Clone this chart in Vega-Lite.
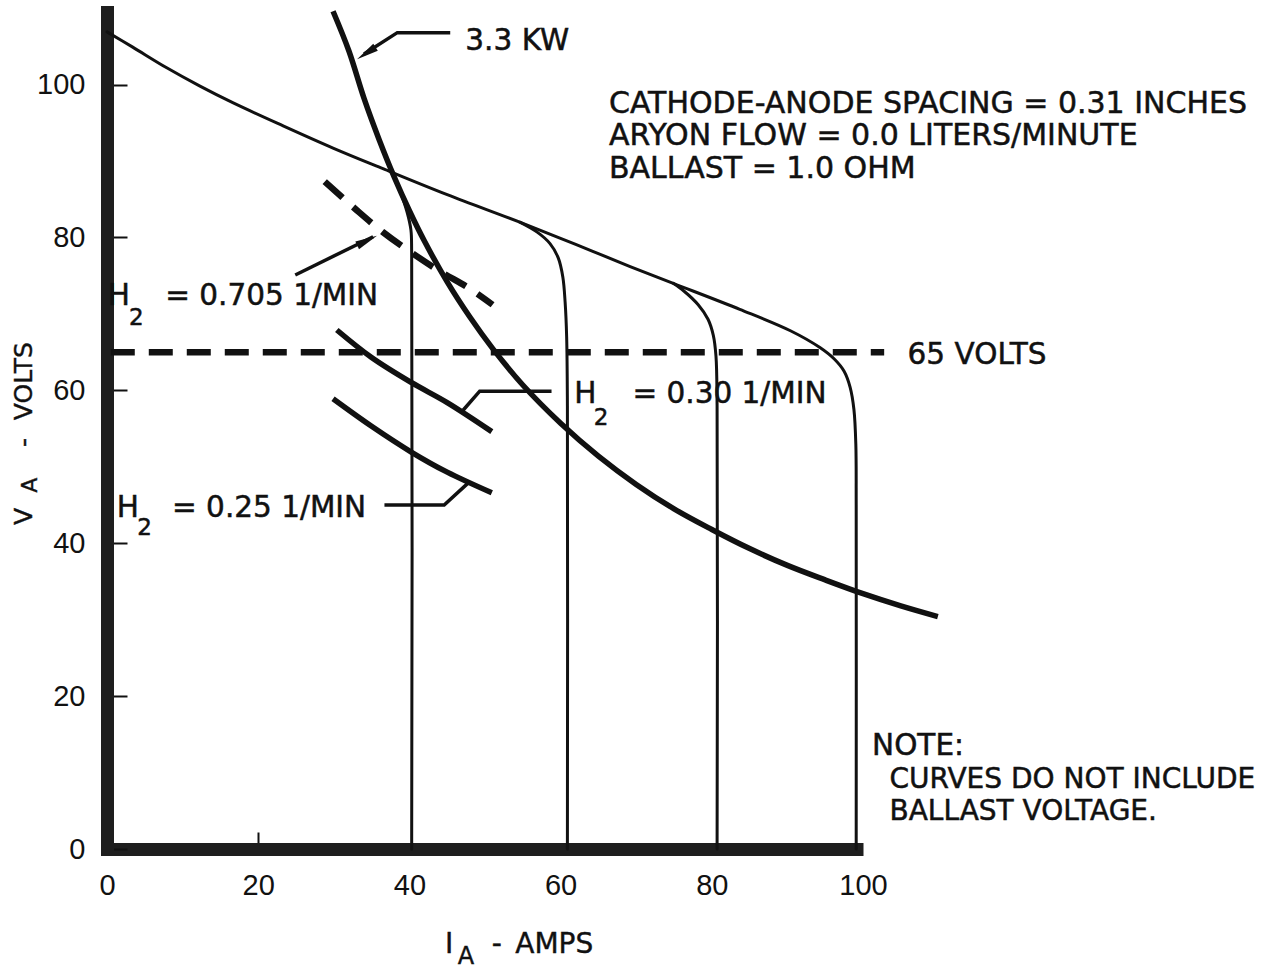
{
  "$schema": "https://vega.github.io/schema/vega-lite/v6.json",
  "width": 756,
  "height": 837,
  "autosize": {"type": "none"},
  "padding": {"left": 107, "top": 12, "right": 424, "bottom": 123},
  "background": "white",
  "config": {"view": {"stroke": null}, "font": "DejaVu Sans"},
  "datasets": {
    "curves": [
      {"s": "env", "i": 0, "amps": 0, "volts": 106.9},
      {"s": "env", "i": 1, "amps": 3.4, "volts": 104.9},
      {"s": "env", "i": 2, "amps": 7.9, "volts": 102.2},
      {"s": "env", "i": 3, "amps": 12.3, "volts": 99.8},
      {"s": "env", "i": 4, "amps": 16.7, "volts": 97.6},
      {"s": "env", "i": 5, "amps": 23.3, "volts": 94.6},
      {"s": "env", "i": 6, "amps": 29.9, "volts": 91.7},
      {"s": "env", "i": 7, "amps": 36.5, "volts": 89.0},
      {"s": "env", "i": 8, "amps": 45, "volts": 85.6},
      {"s": "env", "i": 9, "amps": 54.6, "volts": 82.0},
      {"s": "env", "i": 10, "amps": 62, "volts": 79.1},
      {"s": "env", "i": 11, "amps": 69.2, "volts": 76.2},
      {"s": "env", "i": 12, "amps": 74.9, "volts": 74.0},
      {"s": "env", "i": 13, "amps": 83.7, "volts": 70.6},
      {"s": "env", "i": 14, "amps": 90.4, "volts": 67.8},
      {"s": "env", "i": 15, "amps": 94.3, "volts": 65.6},
      {"s": "env", "i": 16, "amps": 96.2, "volts": 64.1},
      {"s": "env", "i": 17, "amps": 97.5, "volts": 62.5},
      {"s": "env", "i": 18, "amps": 98.3, "volts": 60.4},
      {"s": "env", "i": 19, "amps": 98.8, "volts": 57.5},
      {"s": "env", "i": 20, "amps": 99.05, "volts": 53},
      {"s": "env", "i": 21, "amps": 99.1, "volts": 45},
      {"s": "env", "i": 22, "amps": 99.1, "volts": 0},
      {"s": "a80", "i": 0, "amps": 74.9, "volts": 74.0},
      {"s": "a80", "i": 1, "amps": 76.3, "volts": 73.0},
      {"s": "a80", "i": 2, "amps": 78.2, "volts": 71.2},
      {"s": "a80", "i": 3, "amps": 79.5, "volts": 69.3},
      {"s": "a80", "i": 4, "amps": 80.2, "volts": 67.2},
      {"s": "a80", "i": 5, "amps": 80.55, "volts": 64.5},
      {"s": "a80", "i": 6, "amps": 80.7, "volts": 58},
      {"s": "a80", "i": 7, "amps": 80.7, "volts": 0},
      {"s": "a60", "i": 0, "amps": 54.6, "volts": 82.0},
      {"s": "a60", "i": 1, "amps": 56.9, "volts": 80.7},
      {"s": "a60", "i": 2, "amps": 58.6, "volts": 79.2},
      {"s": "a60", "i": 3, "amps": 59.7, "volts": 77.3},
      {"s": "a60", "i": 4, "amps": 60.3, "volts": 74.8},
      {"s": "a60", "i": 5, "amps": 60.6, "volts": 71.5},
      {"s": "a60", "i": 6, "amps": 60.8, "volts": 67},
      {"s": "a60", "i": 7, "amps": 60.9, "volts": 58},
      {"s": "a60", "i": 8, "amps": 60.9, "volts": 0},
      {"s": "a40", "i": 0, "amps": 37.8, "volts": 88.4},
      {"s": "a40", "i": 1, "amps": 38.8, "volts": 86.0},
      {"s": "a40", "i": 2, "amps": 39.7, "volts": 83.3},
      {"s": "a40", "i": 3, "amps": 40.2, "volts": 81.0},
      {"s": "a40", "i": 4, "amps": 40.3, "volts": 78},
      {"s": "a40", "i": 5, "amps": 40.3, "volts": 0},
      {"s": "kw33", "i": 0, "amps": 29.9, "volts": 109.6},
      {"s": "kw33", "i": 1, "amps": 32, "volts": 104.4},
      {"s": "kw33", "i": 2, "amps": 34, "volts": 98.2},
      {"s": "kw33", "i": 3, "amps": 36, "volts": 92.8},
      {"s": "kw33", "i": 4, "amps": 38, "volts": 87.9},
      {"s": "kw33", "i": 5, "amps": 40, "volts": 83.5},
      {"s": "kw33", "i": 6, "amps": 42, "volts": 79.5},
      {"s": "kw33", "i": 7, "amps": 45, "volts": 74.2},
      {"s": "kw33", "i": 8, "amps": 48, "volts": 69.6},
      {"s": "kw33", "i": 9, "amps": 51, "volts": 65.5},
      {"s": "kw33", "i": 10, "amps": 55, "volts": 60.7},
      {"s": "kw33", "i": 11, "amps": 60, "volts": 55.7},
      {"s": "kw33", "i": 12, "amps": 65, "volts": 51.4},
      {"s": "kw33", "i": 13, "amps": 70, "volts": 47.7},
      {"s": "kw33", "i": 14, "amps": 75, "volts": 44.5},
      {"s": "kw33", "i": 15, "amps": 80, "volts": 41.8},
      {"s": "kw33", "i": 16, "amps": 85, "volts": 39.3},
      {"s": "kw33", "i": 17, "amps": 90, "volts": 37.1},
      {"s": "kw33", "i": 18, "amps": 95, "volts": 35.2},
      {"s": "kw33", "i": 19, "amps": 100, "volts": 33.4},
      {"s": "kw33", "i": 20, "amps": 105, "volts": 31.8},
      {"s": "kw33", "i": 21, "amps": 109.9, "volts": 30.4},
      {"s": "h030", "i": 0, "amps": 30.4, "volts": 67.9},
      {"s": "h030", "i": 1, "amps": 35, "volts": 64.3},
      {"s": "h030", "i": 2, "amps": 40.3, "volts": 61.0},
      {"s": "h030", "i": 3, "amps": 45, "volts": 58.4},
      {"s": "h030", "i": 4, "amps": 50.9, "volts": 54.6},
      {"s": "h025", "i": 0, "amps": 29.9, "volts": 58.9},
      {"s": "h025", "i": 1, "amps": 35, "volts": 55.3},
      {"s": "h025", "i": 2, "amps": 40.3, "volts": 51.9},
      {"s": "h025", "i": 3, "amps": 45, "volts": 49.3},
      {"s": "h025", "i": 4, "amps": 50.9, "volts": 46.6},
      {"s": "ld030", "i": 0, "amps": 47.1, "volts": 57.4},
      {"s": "ld030", "i": 1, "amps": 49.3, "volts": 59.9},
      {"s": "ld030", "i": 2, "amps": 58.8, "volts": 59.9},
      {"s": "ld025", "i": 0, "amps": 36.7, "volts": 45.0},
      {"s": "ld025", "i": 1, "amps": 44.6, "volts": 45.0},
      {"s": "ld025", "i": 2, "amps": 47.9, "volts": 48.0},
      {"s": "ld0705", "i": 0, "amps": 24.9, "volts": 75.1},
      {"s": "ld0705", "i": 1, "amps": 35.2, "volts": 80.1},
      {"s": "ld33", "i": 0, "amps": 45.4, "volts": 106.8},
      {"s": "ld33", "i": 1, "amps": 38.4, "volts": 106.8},
      {"s": "ld33", "i": 2, "amps": 34.0, "volts": 104.0},
      {"s": "d0705", "i": 0, "amps": 28.8, "volts": 87.3},
      {"s": "d0705", "i": 1, "amps": 33, "volts": 83.6},
      {"s": "d0705", "i": 2, "amps": 36.5, "volts": 80.7},
      {"s": "d0705", "i": 3, "amps": 40, "volts": 78.2},
      {"s": "d0705", "i": 4, "amps": 44, "volts": 75.6},
      {"s": "d0705", "i": 5, "amps": 48, "volts": 73.3},
      {"s": "d0705", "i": 6, "amps": 51, "volts": 71.2},
      {"s": "d65", "i": 0, "amps": 0.5, "volts": 65},
      {"s": "d65", "i": 1, "amps": 102.8, "volts": 65}
    ],
    "arrows": [
      {"s": "arr33", "amps": 34.3, "volts": 104.1},
      {"s": "arr0705", "amps": 34.4, "volts": 79.6}
    ],
    "texts": [
      {"kind": "main", "amps": 47.4, "volts": 104.5, "t": "3.3 KW"},
      {"kind": "head", "amps": 66.4, "volts": 96.3, "t": "CATHODE-ANODE SPACING = 0.31 INCHES\nARYON FLOW = 0.0 LITERS/MINUTE\nBALLAST = 1.0 OHM"},
      {"kind": "main", "amps": 105.9, "volts": 63.5, "t": "65 VOLTS"},
      {"kind": "main", "amps": 0.1, "volts": 71.2, "t": "H"},
      {"kind": "main", "amps": 7.7, "volts": 71.2, "t": "=  0.705 1/MIN"},
      {"kind": "main", "amps": 61.8, "volts": 58.3, "t": "H"},
      {"kind": "main", "amps": 69.5, "volts": 58.3, "t": "=  0.30 1/MIN"},
      {"kind": "main", "amps": 1.3, "volts": 43.4, "t": "H"},
      {"kind": "main", "amps": 8.6, "volts": 43.4, "t": "=  0.25 1/MIN"},
      {"kind": "main", "amps": 101.2, "volts": 12.3, "t": "NOTE:"},
      {"kind": "note", "amps": 103.5, "volts": 8.0, "t": "CURVES DO NOT INCLUDE\nBALLAST VOLTAGE."},
      {"kind": "sub", "amps": 2.9, "volts": 68.6, "t": "2"},
      {"kind": "sub", "amps": 64.4, "volts": 55.5, "t": "2"},
      {"kind": "sub", "amps": 4.0, "volts": 41.1, "t": "2"},
      {"kind": "xtitle", "amps": 44.7, "volts": -13.6, "t": "I"},
      {"kind": "xtitle", "amps": 50.9, "volts": -13.6, "t": "-"},
      {"kind": "xtitle", "amps": 54.0, "volts": -13.6, "t": "AMPS"},
      {"kind": "xsub", "amps": 46.4, "volts": -15.0, "t": "A"},
      {"kind": "ytitle", "amps": -9.9, "volts": 42.4, "t": "V"},
      {"kind": "ytitle", "amps": -9.9, "volts": 52.6, "t": "-"},
      {"kind": "ytitle", "amps": -9.9, "volts": 56.1, "t": "VOLTS"},
      {"kind": "ysub", "amps": -9.3, "volts": 46.6, "t": "A"}
    ]
  },
  "encoding": {
    "x": {
      "field": "amps",
      "type": "quantitative",
      "scale": {"domain": [0, 100], "nice": false, "zero": false},
      "axis": {
        "values": [0, 20, 40, 60, 80, 100],
        "title": null,
        "grid": false,
        "domainColor": "#1e1e1e",
        "domainWidth": 13,
        "domainCap": "butt",
        "tickColor": "#111",
        "tickWidth": 2,
        "tickSize": -17,
        "tickOpacity": {"condition": {"test": "datum.value == 20", "value": 1}, "value": 0},
        "labelPadding": 39,
        "labelFont": "Liberation Sans",
        "labelFontSize": 29,
        "labelColor": "#111",
        "labelFlush": false,
        "labelOverlap": false
      }
    },
    "y": {
      "field": "volts",
      "type": "quantitative",
      "scale": {"domain": [0, 109.5], "nice": false, "zero": false},
      "axis": {
        "values": [0, 20, 40, 60, 80, 100],
        "title": null,
        "grid": false,
        "domainColor": "#1e1e1e",
        "domainWidth": 13,
        "domainCap": "square",
        "tickColor": "#111",
        "tickWidth": 2,
        "tickSize": -20,
        "labelPadding": 42,
        "labelFont": "Liberation Sans",
        "labelFontSize": 29,
        "labelColor": "#111",
        "labelFlush": false,
        "labelOverlap": false
      }
    }
  },
  "layer": [
    {
      "data": {"name": "curves"},
      "transform": [{"filter": "indexof(['env','a80','a60','a40'], datum.s) >= 0"}],
      "mark": {"type": "line", "stroke": "#111", "strokeWidth": 3, "strokeJoin": "round", "strokeCap": "round", "interpolate": "catmull-rom"},
      "encoding": {"detail": {"field": "s"}, "order": {"field": "i", "type": "quantitative"}}
    },
    {
      "data": {"name": "curves"},
      "transform": [{"filter": "indexof(['kw33','h030','h025'], datum.s) >= 0"}],
      "mark": {"type": "line", "stroke": "#111", "strokeWidth": 5.5, "strokeJoin": "round", "strokeCap": "butt", "interpolate": "catmull-rom"},
      "encoding": {"detail": {"field": "s"}, "order": {"field": "i", "type": "quantitative"}}
    },
    {
      "data": {"name": "curves"},
      "transform": [{"filter": "indexof(['ld030','ld025','ld0705','ld33'], datum.s) >= 0"}],
      "mark": {"type": "line", "stroke": "#111", "strokeWidth": 3.5, "strokeJoin": "miter", "strokeCap": "butt"},
      "encoding": {"detail": {"field": "s"}, "order": {"field": "i", "type": "quantitative"}}
    },
    {
      "data": {"name": "curves"},
      "transform": [{"filter": "indexof(['d0705','d65'], datum.s) >= 0"}],
      "mark": {"type": "line", "stroke": "#111", "strokeWidth": 6.5, "strokeDash": [24, 14], "strokeCap": "butt", "interpolate": "catmull-rom"},
      "encoding": {"detail": {"field": "s"}, "order": {"field": "i", "type": "quantitative"}}
    },
    {
      "data": {"name": "arrows"},
      "transform": [{"filter": "datum.s == 'arr33'"}],
      "mark": {"type": "point", "shape": "M0,-1L0.38,1L-0.38,1Z", "size": 484, "angle": 237, "filled": true, "fill": "#111", "opacity": 1}
    },
    {
      "data": {"name": "arrows"},
      "transform": [{"filter": "datum.s == 'arr0705'"}],
      "mark": {"type": "point", "shape": "M0,-1L0.38,1L-0.38,1Z", "size": 484, "angle": 64, "filled": true, "fill": "#111", "opacity": 1}
    },
    {
      "data": {"name": "texts"},
      "transform": [{"filter": "datum.kind == 'main'"}],
      "mark": {"type": "text", "align": "left", "baseline": "alphabetic", "font": "DejaVu Sans", "fontSize": 29.5, "fill": "#111", "stroke": "#111", "strokeWidth": 0.5},
      "encoding": {"text": {"field": "t"}}
    },
    {
      "data": {"name": "texts"},
      "transform": [{"filter": "datum.kind == 'head'"}],
      "mark": {"type": "text", "align": "left", "baseline": "alphabetic", "font": "DejaVu Sans", "fontSize": 30, "lineHeight": 32.5, "lineBreak": "\n", "fill": "#111", "stroke": "#111", "strokeWidth": 0.5},
      "encoding": {"text": {"field": "t"}}
    },
    {
      "data": {"name": "texts"},
      "transform": [{"filter": "datum.kind == 'note'"}],
      "mark": {"type": "text", "align": "left", "baseline": "alphabetic", "font": "DejaVu Sans", "fontSize": 28, "lineHeight": 32, "lineBreak": "\n", "fill": "#111", "stroke": "#111", "strokeWidth": 0.5},
      "encoding": {"text": {"field": "t"}}
    },
    {
      "data": {"name": "texts"},
      "transform": [{"filter": "datum.kind == 'sub'"}],
      "mark": {"type": "text", "align": "left", "baseline": "alphabetic", "font": "DejaVu Sans", "fontSize": 23, "fill": "#111", "stroke": "#111", "strokeWidth": 0.5},
      "encoding": {"text": {"field": "t"}}
    },
    {
      "data": {"name": "texts"},
      "transform": [{"filter": "datum.kind == 'xtitle'"}],
      "mark": {"type": "text", "align": "left", "baseline": "alphabetic", "font": "DejaVu Sans", "fontSize": 28, "fill": "#111", "stroke": "#111", "strokeWidth": 0.4},
      "encoding": {"text": {"field": "t"}}
    },
    {
      "data": {"name": "texts"},
      "transform": [{"filter": "datum.kind == 'xsub'"}],
      "mark": {"type": "text", "align": "left", "baseline": "alphabetic", "font": "DejaVu Sans", "fontSize": 24, "fill": "#111", "stroke": "#111", "strokeWidth": 0.4},
      "encoding": {"text": {"field": "t"}}
    },
    {
      "data": {"name": "texts"},
      "transform": [{"filter": "datum.kind == 'ytitle'"}],
      "mark": {"type": "text", "align": "left", "baseline": "alphabetic", "angle": 270, "font": "DejaVu Sans", "fontSize": 25, "fill": "#111", "stroke": "#111", "strokeWidth": 0.4},
      "encoding": {"text": {"field": "t"}}
    },
    {
      "data": {"name": "texts"},
      "transform": [{"filter": "datum.kind == 'ysub'"}],
      "mark": {"type": "text", "align": "left", "baseline": "alphabetic", "angle": 270, "font": "DejaVu Sans", "fontSize": 22, "fill": "#111", "stroke": "#111", "strokeWidth": 0.4},
      "encoding": {"text": {"field": "t"}}
    }
  ]
}
